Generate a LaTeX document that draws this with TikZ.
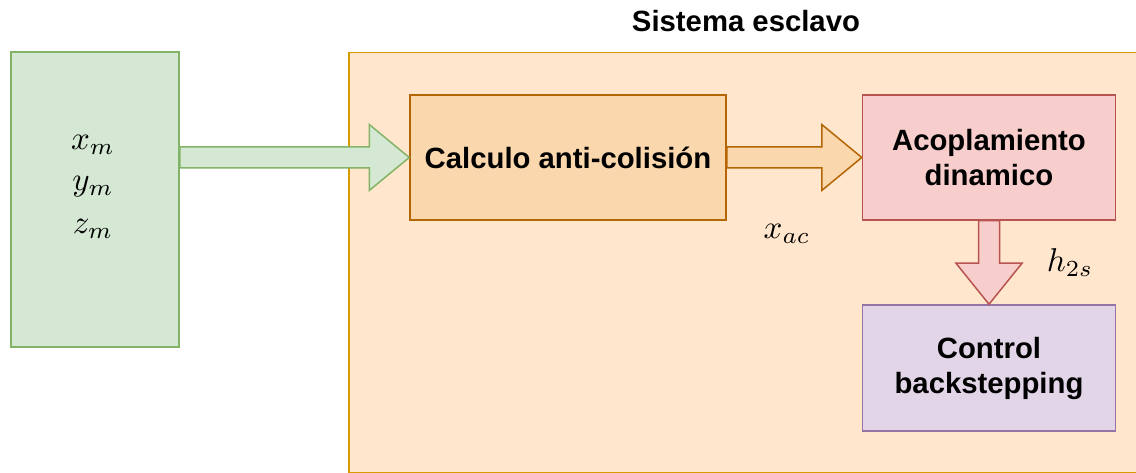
\documentclass[tikz,border=0pt]{standalone}
\usepackage[no-math]{fontspec}
\setmainfont{Liberation Sans}
\usetikzlibrary{calc}
\definecolor{gfill}{HTML}{D5E8D4}\definecolor{gline}{HTML}{82B366}
\definecolor{ofill}{HTML}{FFE6CC}\definecolor{oline}{HTML}{D79B00}
\definecolor{cfill}{HTML}{FAD7AC}\definecolor{cline}{HTML}{B46504}
\definecolor{rfill}{HTML}{F8CECC}\definecolor{rline}{HTML}{B85450}
\definecolor{pfill}{HTML}{E1D5E7}\definecolor{pline}{HTML}{9673A6}
\newcommand{\harrowblk}[3]{%
  \draw[#1] ($(#2)+(0,-10.5)$) -- ($(#3)+(-40,-10.5)$) -- ($(#3)+(-40,-33)$) -- (#3)
    -- ($(#3)+(-40,33)$) -- ($(#3)+(-40,10.5)$) -- ($(#2)+(0,10.5)$) -- cycle;}
\newcommand{\varrowblk}[3]{%
  \draw[#1] ($(#2)+(-10.5,0)$) -- ($(#3)+(-10.5,-41)$) -- ($(#3)+(-33,-41)$) -- (#3)
    -- ($(#3)+(33,-41)$) -- ($(#3)+(10.5,-41)$) -- ($(#2)+(10.5,0)$) -- cycle;}
\tikzset{
  blk/.style={draw, line width=1.5pt, inner sep=0pt, align=center,
    font=\fontsize{29.3}{35}\selectfont\bfseries},
  mathlbl/.style={inner sep=0pt, font=\fontsize{10}{12}\selectfont, scale=3.3},
}
\begin{document}
\begin{tikzpicture}[x=1pt,y=-1pt]
\clip (0,0) rectangle (1136,473);
\fill[white] (0,0) rectangle (1136,473);
% container
\node[draw=oline, fill=ofill, line width=1.5pt, minimum width=800pt, minimum height=420pt, inner sep=0pt, anchor=north west] (cont) at (348,52) {};
\node[font=\fontsize{29.3}{34}\selectfont\bfseries, inner sep=0pt] (title) at (746,21) {Sistema esclavo};
% green input box
\node[blk, draw=gline, fill=gfill, minimum width=168pt, minimum height=295pt] (inp) at (95,199.5) {};
\node[mathlbl] (xm) at (93,145) {$x_m$};
\node[mathlbl] (ym) at (93,187) {$y_m$};
\node[mathlbl] (zm) at (93,229) {$z_m$};
% blocks
\node[blk, draw=cline, fill=cfill, minimum width=316pt, minimum height=125pt] (calc) at (568,157.5) {Calculo anti-colisión};
\node[blk, draw=rline, fill=rfill, minimum width=253pt, minimum height=125pt] (acop) at (989,157.5) {Acoplamiento\\dinamico};
\node[blk, draw=pline, fill=pfill, minimum width=253pt, minimum height=126pt] (ctrl) at (989,368) {Control\\backstepping};
% arrows
\coordinate (gstart) at (inp.east |- calc.west);
\harrowblk{draw=gline, fill=gfill, line width=1.5pt, line join=miter}{gstart}{calc.west}
\harrowblk{draw=cline, fill=cfill, line width=1.5pt, line join=miter}{calc.east}{acop.west}
\varrowblk{draw=rline, fill=rfill, line width=1.5pt, line join=miter}{acop.south}{ctrl.north}
% labels
\node[mathlbl] (xac) at (787,234) {$x_{ac}$};
\node[mathlbl] (h2s) at (1070,263) {$h_{2s}$};
\end{tikzpicture}
\end{document}
